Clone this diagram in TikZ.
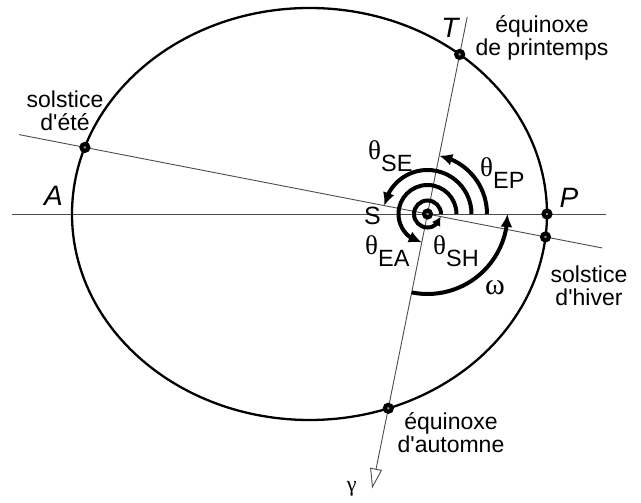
\documentclass[tikz,border=0pt]{standalone}
\usepackage{fontspec}
\setmainfont{Liberation Sans}
\newfontfamily\grk{Liberation Serif}
\usepackage{tikz}
\usetikzlibrary{arrows.meta,bending}

\newcommand{\angsub}[2]{{\grk\fontsize{27}{27}\selectfont #1}\raisebox{-12pt}{\fontsize{23.5}{23.5}\selectfont #2}}

\begin{document}
\begin{tikzpicture}[x=1pt, y=1pt,
    every node/.style={font=\fontsize{23}{23}\selectfont, inner sep=0pt},
    orbit/.style={line width=2.3pt},
    axis/.style={line width=0.9pt, black!70},
    dot/.style={circle, draw=black, fill=black!45, line width=4pt, minimum size=7pt},
    anglearc/.style={line width=4pt, -{Latex[length=13pt,width=12pt]}},
    pointlabel/.style={font=\fontsize{28}{28}\selectfont\itshape},
    note/.style={align=center}]
    \useasboundingbox (-427.5,-289) rectangle (213.5,214);
    % lines through the sun
    \coordinate (apW) at (-415.5,0);
    \coordinate (apE) at (178.5,0);
    \coordinate (solW) at (169:416);
    \coordinate (solE) at (-11:178);
    \coordinate (eqN) at (78.6:201);
    \coordinate (eqS) at (258.6:280);
    \draw[axis] (apW) -- (apE);
    \draw[axis] (solW) -- (solE);
    \draw[axis, -{Triangle[open,length=20pt,width=12pt]}] (eqN) -- (eqS);
    % orbit
    \draw[orbit] (-118,0) ellipse [x radius=237.5, y radius=206];
    \node[dot] (sun) at (0,0) {};
    \node[dot] (perihelion) at (119.5,0) {};
    \node[dot] (summer) at (169:349) {};
    \node[dot] (winter) at (-11:120.2) {};
    \node[dot] (spring) at (78.6:162.8) {};
    \node[dot] (autumn) at (258.6:198.2) {};
    % angles
    \draw[anglearc] (0:59.5) arc[start angle=0, end angle=78.6, radius=59.5];
    \draw[anglearc] (0:44) arc[start angle=0, end angle=169, radius=44];
    \draw[anglearc] (0:29) arc[start angle=0, end angle=258.6, radius=29];
    \draw[anglearc, -{Latex[length=9pt,width=10pt]}] (0:13.5) arc[start angle=0, end angle=349, radius=13.5];
    \draw[anglearc] (258.6:80) arc[start angle=258.6, end angle=360, radius=80];
    % labels
    \node[pointlabel] (Tlab) at (22.5,186) {T};
    \node[pointlabel] (Alab) at (-374,18) {A};
    \node[pointlabel] (Plab) at (141.5,16.5) {P};
    \node[font=\fontsize{25}{25}\selectfont] (Slab) at (-55,-2) {S};
    \node[anchor=base west] (thSE) at (-59.5,54) {\angsub{θ}{SE}};
    \node[anchor=base west] (thEP) at (52.5,37) {\angsub{θ}{EP}};
    \node[anchor=base west] (thEA) at (-62.5,-41) {\angsub{θ}{EA}};
    \node[anchor=base west] (thSH) at (5.5,-41) {\angsub{θ}{SH}};
    \node[anchor=base west, font=\grk\fontsize{30}{30}\selectfont] (omega) at (57.5,-81) {ω};
    \node[font=\grk\fontsize{22}{22}\selectfont] (gamma) at (-75.8,-275) {γ};
    \node[note] (springlab) at (114.5,176) {équinoxe\\de printemps};
    \node[note] (summerlab) at (-362.5,103) {solstice\\d\textquotesingle été};
    \node[note] (winterlab) at (161.5,-72) {solstice\\d\textquotesingle hiver};
    \node[note] (autumnlab) at (23.5,-219) {équinoxe\\d\textquotesingle automne};
\end{tikzpicture}
\end{document}
